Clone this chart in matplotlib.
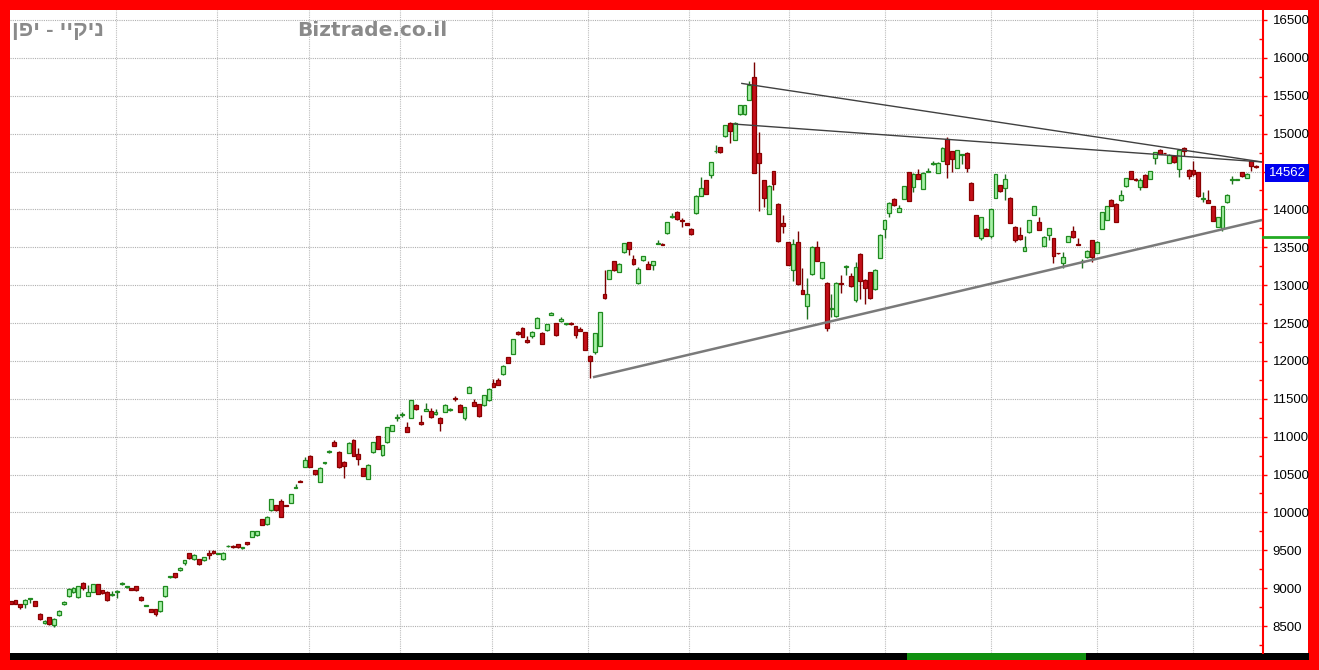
import numpy as np
import matplotlib.pyplot as plt
from matplotlib.patches import Rectangle
import matplotlib.transforms as mtransforms

# daily candles
opens = [8825, 8840, 8787, 8787, 8855, 8826, 8656, 8535, 8613, 8517,
         8640, 8790, 8895, 8948, 8883, 9065, 8895, 8948, 9056, 8970,
         8948, 8915, 8945, 9052, 9010, 9000, 9030, 8883, 8765, 8722,
         8722, 8700, 8890, 9145, 9196, 9240, 9335, 9467, 9380, 9383,
         9370, 9460, 9494, 9455, 9380, 9550, 9563, 9580, 9525, 9612,
         9680, 9700, 9908, 9846, 10031, 10097, 10155, 10095, 10128, 10325,
         10420, 10605, 10750, 10560, 10407, 10655, 10795, 10935, 10803, 10670,
         10785, 10962, 10776, 10586, 10440, 10794, 11006, 10754, 10926, 11072,
         11245, 11288, 11125, 11249, 11420, 11196, 11345, 11337, 11295, 11249,
         11324, 11350, 11505, 11412, 11249, 11580, 11456, 11425, 11412, 11479,
         11713, 11744, 11824, 12045, 12089, 12380, 12438, 12275, 12328, 12438,
         12372, 12403, 12610, 12495, 12530, 12484, 12497, 12460, 12416, 12380,
         12064, 12117, 12196, 12878, 13085, 13318, 13173, 13437, 13569, 13340,
         13023, 13327, 13274, 13261, 13545, 13545, 13683, 13895, 13969, 13855,
         13820, 13741, 13949, 14183, 14382, 14448, 14765, 14823, 14965, 15146,
         14921, 15257, 15257, 15443, 15743, 14744, 14382, 13940, 14505, 14072,
         13816, 13564, 13197, 13564, 12932, 12724, 13144, 13498, 13091, 13034,
         12690, 12591, 13020, 13245, 13117, 12800, 13417, 13073, 13170, 12949,
         13360, 13743, 13955, 14140, 13964, 14140, 14493, 14299, 14470, 14272,
         14495, 14595, 14484, 14638, 14925, 14770, 14550, 14715, 14748, 14352,
         13920, 13624, 13743, 13655, 14153, 14316, 14286, 14153, 13774, 13664,
         13456, 13695, 13928, 13827, 13518, 13664, 13620, 13425, 13297, 13575,
         13720, 13545, 13305, 13368, 13597, 13430, 13739, 13862, 14127, 14074,
         14118, 14303, 14502, 14395, 14294, 14457, 14400, 14678, 14780, 14742,
         14612, 14709, 14533, 14810, 14524, 14515, 14488, 14135, 14127, 14047,
         13774, 13752, 14092, 14385, 14390, 14488, 14413, 14634, 14577]

closes = [8795, 8795, 8752, 8840, 8862, 8770, 8595, 8560, 8526, 8595,
          8705, 8817, 8991, 9004, 9022, 9004, 8952, 9056, 8926, 8935,
          8840, 8925, 8955, 9058, 9015, 8978, 8970, 8840, 8772, 8687,
          8665, 8830, 9030, 9155, 9143, 9270, 9370, 9392, 9438, 9313,
          9405, 9440, 9459, 9465, 9470, 9560, 9537, 9537, 9532, 9580,
          9755, 9755, 9833, 9934, 10172, 10031, 9934, 10085, 10239, 10335,
          10400, 10693, 10605, 10503, 10583, 10665, 10805, 10883, 10596, 10610,
          10918, 10750, 10705, 10485, 10630, 10927, 10838, 10887, 11125, 11152,
          11250, 11292, 11059, 11479, 11360, 11161, 11360, 11262, 11320, 11183,
          11421, 11370, 11495, 11324, 11390, 11660, 11404, 11271, 11550, 11625,
          11660, 11682, 11934, 11978, 12287, 12350, 12315, 12250, 12385, 12570,
          12227, 12482, 12630, 12337, 12550, 12490, 12493, 12337, 12394, 12143,
          11998, 12363, 12645, 12825, 13195, 13199, 13283, 13551, 13472, 13274,
          13217, 13384, 13217, 13318, 13555, 13535, 13833, 13905, 13877, 13850,
          13800, 13675, 14183, 14285, 14205, 14625, 14775, 14757, 15111, 15036,
          15142, 15376, 15376, 15641, 14479, 14612, 14152, 14315, 14329, 13577,
          13785, 13268, 13542, 13012, 12888, 12888, 13506, 13321, 13299, 12437,
          12695, 13034, 13010, 13252, 12985, 13240, 13050, 12963, 12830, 13205,
          13668, 13857, 14087, 14052, 14012, 14308, 14110, 14470, 14405, 14484,
          14505, 14605, 14616, 14815, 14594, 14660, 14784, 14725, 14550, 14122,
          13655, 13902, 13655, 13999, 14462, 14241, 14396, 13822, 13598, 13606,
          13510, 13862, 14047, 13730, 13642, 13752, 13386, 13418, 13368, 13650,
          13633, 13535, 13315, 13456, 13377, 13575, 13959, 14047, 14047, 13840,
          14193, 14413, 14400, 14388, 14391, 14294, 14502, 14753, 14735, 14738,
          14722, 14621, 14780, 14766, 14436, 14471, 14171, 14145, 14083, 13853,
          13897, 14039, 14193, 14395, 14392, 14436, 14471, 14568, 14562]

highs = [8835, 8850, 8795, 8860, 8875, 8830, 8670, 8575, 8620, 8600,
         8710, 8830, 9000, 9010, 9030, 9080, 9040, 9060, 9060, 8980,
         8960, 8960, 8970, 9080, 9025, 9005, 9035, 8890, 8780, 8725,
         8730, 8835, 9035, 9160, 9200, 9280, 9375, 9470, 9445, 9390,
         9410, 9500, 9500, 9470, 9475, 9565, 9570, 9585, 9540, 9615,
         9760, 9760, 9912, 9950, 10175, 10100, 10172, 10100, 10245, 10380,
         10425, 10730, 10755, 10565, 10600, 10670, 10830, 10950, 10810, 10675,
         10925, 10968, 10855, 10590, 10635, 10930, 11010, 10890, 11130, 11160,
         11300, 11330, 11190, 11485, 11425, 11290, 11440, 11380, 11360, 11255,
         11425, 11380, 11530, 11430, 11395, 11665, 11500, 11430, 11555, 11640,
         11760, 11780, 11940, 12050, 12290, 12390, 12445, 12330, 12390, 12575,
         12380, 12490, 12640, 12500, 12580, 12500, 12510, 12465, 12450, 12385,
         12080, 12370, 12650, 13200, 13200, 13322, 13290, 13555, 13575, 13400,
         13240, 13390, 13320, 13325, 13600, 13550, 13840, 13950, 13975, 13880,
         13825, 13750, 14190, 14430, 14390, 14630, 14850, 14830, 15115, 15150,
         15148, 15380, 15380, 15700, 15951, 15020, 14388, 14320, 14510, 14080,
         13920, 13570, 13610, 13720, 13230, 13100, 13512, 13580, 13305, 13040,
         12880, 13040, 13135, 13260, 13160, 13300, 13420, 13080, 13175, 13210,
         13672, 13860, 14092, 14145, 14060, 14312, 14497, 14475, 14530, 14490,
         14540, 14640, 14620, 14820, 14960, 14775, 14790, 14730, 14752, 14356,
         13924, 13906, 13748, 14003, 14466, 14320, 14470, 14158, 13778, 13770,
         13650, 13866, 14051, 13900, 13646, 13756, 13624, 13430, 13440, 13654,
         13780, 13620, 13340, 13460, 13601, 13579, 13963, 14051, 14131, 14078,
         14260, 14417, 14506, 14420, 14420, 14461, 14506, 14757, 14800, 14746,
         14726, 14713, 14784, 14830, 14528, 14640, 14492, 14230, 14250, 14051,
         13901, 14043, 14197, 14440, 14394, 14492, 14475, 14638, 14590]

lows = [8785, 8790, 8720, 8740, 8810, 8765, 8580, 8530, 8520, 8490,
        8635, 8775, 8880, 8940, 8875, 8980, 8890, 8945, 8920, 8925,
        8835, 8900, 8870, 9040, 9000, 8975, 8960, 8830, 8760, 8680,
        8630, 8690, 8885, 9140, 9140, 9220, 9300, 9390, 9375, 9310,
        9365, 9380, 9455, 9450, 9375, 9545, 9535, 9530, 9515, 9575,
        9675, 9695, 9830, 9840, 10025, 10025, 9934, 10080, 10120, 10320,
        10395, 10600, 10600, 10500, 10400, 10640, 10790, 10880, 10590, 10450,
        10780, 10745, 10630, 10480, 10435, 10790, 10835, 10750, 10920, 11068,
        11200, 11260, 11055, 11245, 11355, 11155, 11340, 11250, 11290, 11080,
        11320, 11345, 11470, 11320, 11220, 11575, 11400, 11265, 11408, 11475,
        11655, 11678, 11820, 11970, 12085, 12340, 12310, 12240, 12300, 12430,
        12220, 12400, 12600, 12330, 12520, 12480, 12480, 12300, 12390, 12140,
        11780, 12090, 12190, 12820, 13080, 13190, 13170, 13430, 13400, 13270,
        13020, 13320, 13210, 13200, 13540, 13530, 13680, 13890, 13860, 13770,
        13795, 13660, 13945, 14180, 14200, 14420, 14740, 14750, 14960, 14880,
        14915, 15250, 15250, 15440, 14479, 13984, 14030, 13935, 14250, 13570,
        13690, 13260, 13050, 13005, 12880, 12550, 13140, 13315, 13085, 12400,
        12580, 12580, 12900, 13130, 12980, 12780, 12820, 12750, 12820, 12940,
        13355, 13620, 13900, 14040, 13960, 14138, 14105, 14230, 14400, 14268,
        14490, 14580, 14480, 14635, 14420, 14500, 14545, 14600, 14490, 14118,
        13650, 13600, 13650, 13620, 14150, 14236, 14120, 13818, 13570, 13600,
        13450, 13690, 13924, 13725, 13514, 13600, 13290, 13410, 13220, 13571,
        13628, 13530, 13230, 13364, 13300, 13426, 13735, 13858, 14043, 13836,
        14114, 14299, 14396, 14380, 14250, 14290, 14396, 14600, 14731, 14734,
        14608, 14617, 14430, 14700, 14400, 14440, 14167, 14100, 14079, 13849,
        13770, 13720, 14088, 14330, 14388, 14432, 14409, 14510, 14540]

# month separators (candle index) and price grid
month_lines = [21.8, 42.7, 61.8, 80.6, 99.7, 119.6, 140.5, 161.2, 181.1, 203.1, 225.0, 244.9]
price_ticks = list(range(8500, 17000, 500))
hidden_tick = 14500  # sits under the last-price box

# hand drawn trend lines: (x0, y0, x1, y1) in candle index / price
trend_top = (151.3, 15664, 259.2, 14626)
trend_mid = (149.7, 15127, 259.2, 14626)
trend_low = (120.6, 11784, 259.2, 13860)
marker_level = 13636

title = "ניקיי - יפן"
site = "Biztrade.co.il"

W, H = 1319, 670
fig = plt.figure(figsize=(W / 100, H / 100), dpi=100)
fig.patch.set_facecolor('#ff0000')

# white chart panel (incl. the label strip) and black status bar
fig.patches.append(Rectangle((10 / W, 17 / H), 1298 / W, 643 / H, transform=fig.transFigure,
                             facecolor='white', edgecolor='none', zorder=-10))
fig.patches.append(Rectangle((10 / W, 10 / H), 1299 / W, 7 / H, transform=fig.transFigure,
                             facecolor='black', edgecolor='none', zorder=-10))
fig.patches.append(Rectangle((907 / W, 10 / H), 179 / W, 7 / H, transform=fig.transFigure,
                             facecolor='#109010', edgecolor='none', zorder=-9))

ax = fig.add_axes([10 / W, 17 / H, 1253 / W, 643 / H])
ax.set_zorder(1)
ax.set_facecolor('white')

o = np.array(opens, dtype=float)
c = np.array(closes, dtype=float)
hi = np.array(highs, dtype=float)
lo = np.array(lows, dtype=float)
x = np.arange(len(o))
up = c >= o

# wicks
ax.vlines(x[up], lo[up], hi[up], color='#1f6f1f', lw=1, zorder=3)
ax.vlines(x[~up], lo[~up], hi[~up], color='#7a0000', lw=1, zorder=3)

# bodies
bottom = np.minimum(o, c)
height = np.maximum(np.abs(c - o), 12)
ax.bar(x[up], height[up], bottom=bottom[up], width=0.8, color='#a6f0a6',
       edgecolor='#1f8a1f', linewidth=0.9, zorder=4)
ax.bar(x[~up], height[~up], bottom=bottom[~up], width=0.8, color='#c4101a',
       edgecolor='#8a0000', linewidth=0.9, zorder=4)

# trend lines
for (x0, y0, x1, y1), col, lw in [(trend_top, '#404040', 1.0), (trend_mid, '#404040', 1.0),
                                  (trend_low, '#7a7a7a', 1.8)]:
    ax.plot([x0, x1], [y0, y1], color=col, lw=lw, zorder=5, solid_capstyle='butt')

ax.set_xlim(-0.15, 259.4)
ax.set_ylim(8144, 16632)

# grid
for v in month_lines:
    ax.axvline(v, color='#bdbdbd', lw=0.8, ls=(0, (1, 1)), zorder=1)
for p in price_ticks:
    ax.axhline(p, color='#b0b0b0', lw=0.8, ls=(0, (1, 1)), zorder=1)

# axis on the right
ax.yaxis.tick_right()
ax.set_yticks(price_ticks)
ax.set_yticklabels(['' if p == hidden_tick else str(p) for p in price_ticks])
ax.set_yticks(np.arange(8250, 16700, 250), minor=True)
ax.tick_params(axis='y', which='major', length=3, width=1, color='#ff0000', pad=4,
               labelsize=9.5, labelcolor='black', direction='out')
ax.tick_params(axis='y', which='minor', length=3, width=1, color='#ff0000', direction='in')
for lab in ax.get_yticklabels():
    lab.set_family(['Liberation Sans', 'DejaVu Sans'])
ax.set_xticks([])
for s in ['top', 'left', 'bottom']:
    ax.spines[s].set_visible(False)
ax.spines['right'].set_color('#ff0000')
ax.spines['right'].set_linewidth(1.5)

# last price box and marker line on the axis
blend = mtransforms.blended_transform_factory(ax.transAxes, ax.transData)
ax.text(1.0045, c[-1], f"{int(c[-1])}", transform=blend, ha='left', va='top',
        color='white', fontsize=9.5, family=['Liberation Sans', 'DejaVu Sans'],
        bbox=dict(boxstyle='square,pad=0.25', facecolor='#0000ee', edgecolor='none'),
        clip_on=False, zorder=6)
ax.plot([1.0, 1.036], [marker_level, marker_level], transform=blend, color='#22aa22',
        lw=2, clip_on=False, zorder=6)

# titles
fig.text(12 / W, 1 - 30 / H, title[::-1], ha='left', va='center', color='#8a8a8a',
         fontsize=16, fontweight='bold', family=['Liberation Sans', 'DejaVu Sans'])
fig.text(297 / W, 1 - 30 / H, site, ha='left', va='center', color='#8a8a8a',
         fontsize=14.5, fontweight='bold', family=['DejaVu Sans'])

fig.savefig('out.png', dpi=100, facecolor=fig.get_facecolor())
